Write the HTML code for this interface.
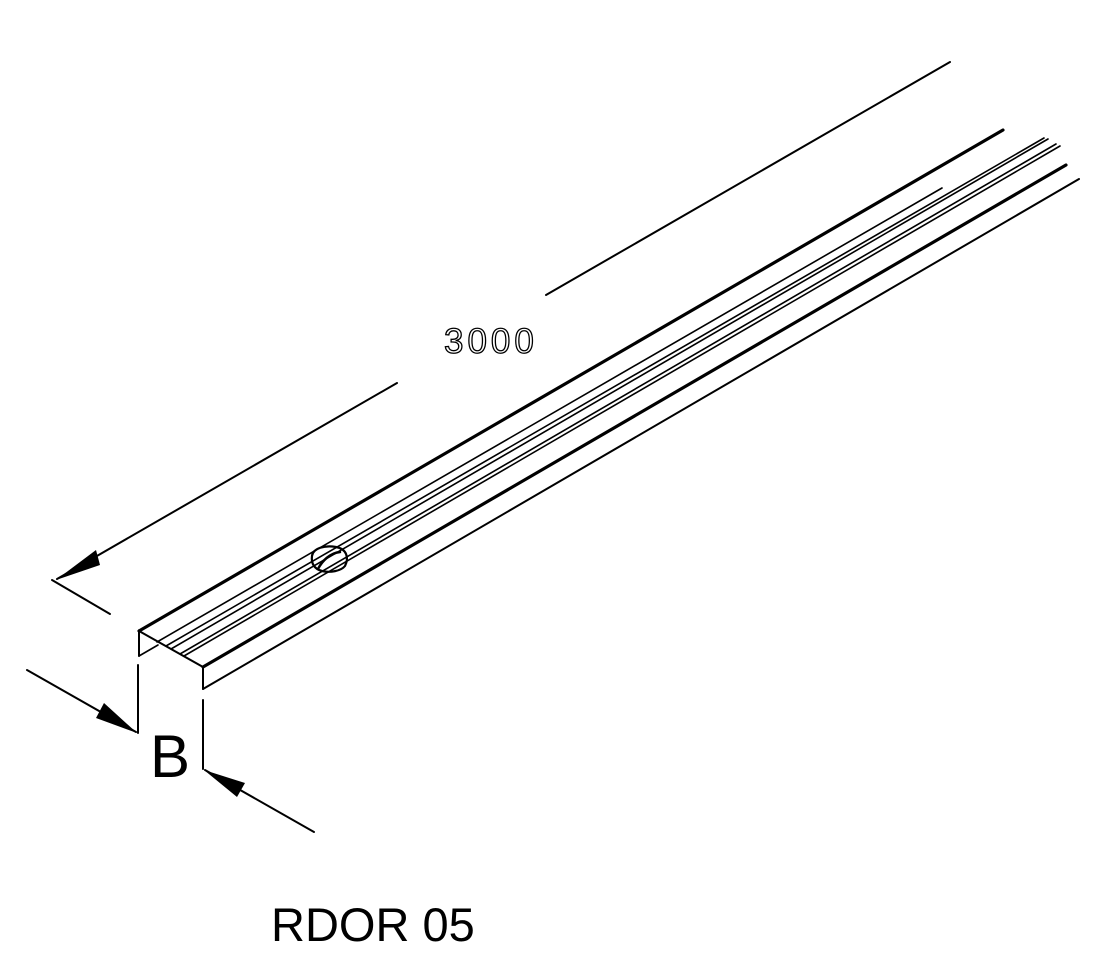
<!DOCTYPE html>
<html><head><style>
html,body{margin:0;padding:0;background:#fff;}
svg{display:block;}
</style></head><body>
<svg width="1118" height="964" viewBox="0 0 1118 964" xmlns="http://www.w3.org/2000/svg">
<g stroke="#000" fill="none" stroke-linecap="round">
<line x1="139" y1="631" x2="1003" y2="130" stroke-width="3.2"/>
<line x1="203" y1="667" x2="1066" y2="165" stroke-width="3.2"/>
<line x1="203" y1="689" x2="1079" y2="179" stroke-width="2"/>
<polyline points="139,656 139,631 203,667 203,689" stroke-width="2"/>
<line x1="139" y1="656" x2="158" y2="645" stroke-width="1.6"/>
<line x1="157" y1="642" x2="942" y2="188" stroke-width="1.6"/>
<line x1="166" y1="646" x2="1044" y2="138" stroke-width="1.6"/>
<line x1="171" y1="649" x2="1048" y2="139" stroke-width="1.6"/>
<line x1="180" y1="654" x2="1056" y2="144" stroke-width="1.6"/>
<line x1="184" y1="656" x2="1060" y2="146" stroke-width="1.6"/>
<path d="M312,556 C313,548 325,545 336,547 C347,549 349,558 345,566 C341,571 330,573 322,571 C314,569 311,563 312,556 Z" stroke-width="2.2"/>
<path d="M318,569 C322,561 330,553 340,552" stroke-width="2.5"/>
<line x1="57" y1="579" x2="397" y2="383" stroke-width="2"/>
<line x1="546" y1="295" x2="950" y2="62" stroke-width="2"/>
<line x1="52" y1="580" x2="110" y2="614" stroke-width="2"/>
<line x1="27" y1="670" x2="136" y2="732" stroke-width="2"/>
<line x1="138" y1="665" x2="138" y2="733" stroke-width="2"/>
<line x1="203" y1="700" x2="203" y2="769" stroke-width="2"/>
<line x1="205" y1="770" x2="314" y2="832" stroke-width="2"/>
</g>
<g fill="#000">
<polygon points="56,580 96,550 100,565"/>
<polygon points="137,733 96,718 104,703"/>
<polygon points="204,770 245,783 237,797"/>
</g>
<text x="444" y="353" font-family="Liberation Sans, sans-serif" font-size="35" fill="none" stroke="#000" stroke-width="1.3" letter-spacing="4">3000</text>
<text x="150" y="777" font-family="Liberation Sans, sans-serif" font-size="60" fill="#000">B</text>
<text x="271" y="941" font-family="Liberation Sans, sans-serif" font-size="47" fill="#000">RDOR 05</text>
</svg>
</body></html>
